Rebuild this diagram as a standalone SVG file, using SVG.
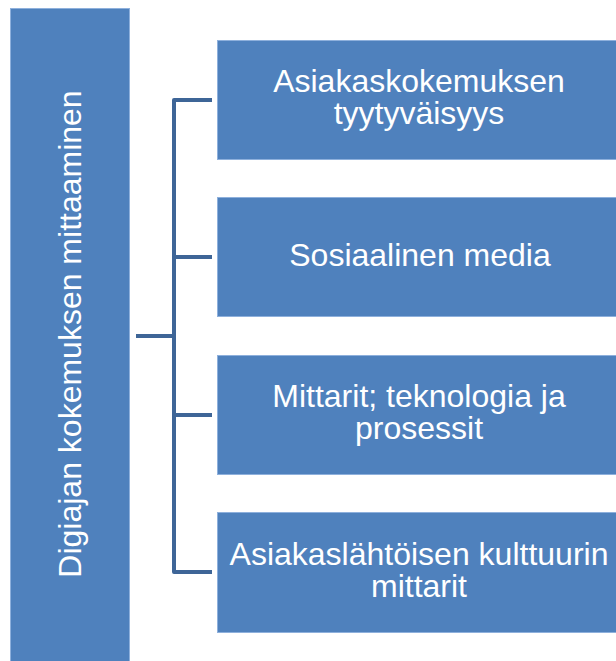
<svg xmlns="http://www.w3.org/2000/svg" width="616" height="661" viewBox="0 0 616 661">
<style>
.box{fill:#4f81bd;stroke:#8eb0dc;stroke-width:1}
.t{font-family:"Liberation Sans",Arial,sans-serif;font-size:32px;fill:#ffffff;text-anchor:middle}
.c{fill:none;stroke:#3e6597;stroke-width:4;stroke-linejoin:round;stroke-linecap:butt}
</style>
<rect x="0" y="0" width="616" height="661" fill="#ffffff"/>
<g id="root">
<rect class="box" x="10.5" y="8.5" width="119" height="660"/>
<text class="t" transform="translate(81,334) rotate(-90)" x="0" y="0">Digiajan kokemuksen mittaaminen</text>
</g>
<g id="connectors">
<path class="c" d="M136,336 H174"/>
<path class="c" d="M212,100 H174 V572 H212"/>
<path class="c" d="M174,257 H212"/>
<path class="c" d="M174,415 H212"/>
</g>
<g id="n1">
<rect class="box" x="217.5" y="40.5" width="410" height="119"/>
<text class="t" x="419" y="92">Asiakaskokemuksen</text>
<text class="t" x="419" y="124">tyytyväisyys</text>
</g>
<g id="n2">
<rect class="box" x="217.5" y="197.5" width="410" height="119"/>
<text class="t" x="420" y="266">Sosiaalinen media</text>
</g>
<g id="n3">
<rect class="box" x="217.5" y="355.5" width="410" height="119"/>
<text class="t" x="419" y="407">Mittarit; teknologia ja</text>
<text class="t" x="419" y="439">prosessit</text>
</g>
<g id="n4">
<rect class="box" x="217.5" y="512.5" width="410" height="120"/>
<text class="t" x="419" y="565">Asiakaslähtöisen kulttuurin</text>
<text class="t" x="419" y="597">mittarit</text>
</g>
</svg>
